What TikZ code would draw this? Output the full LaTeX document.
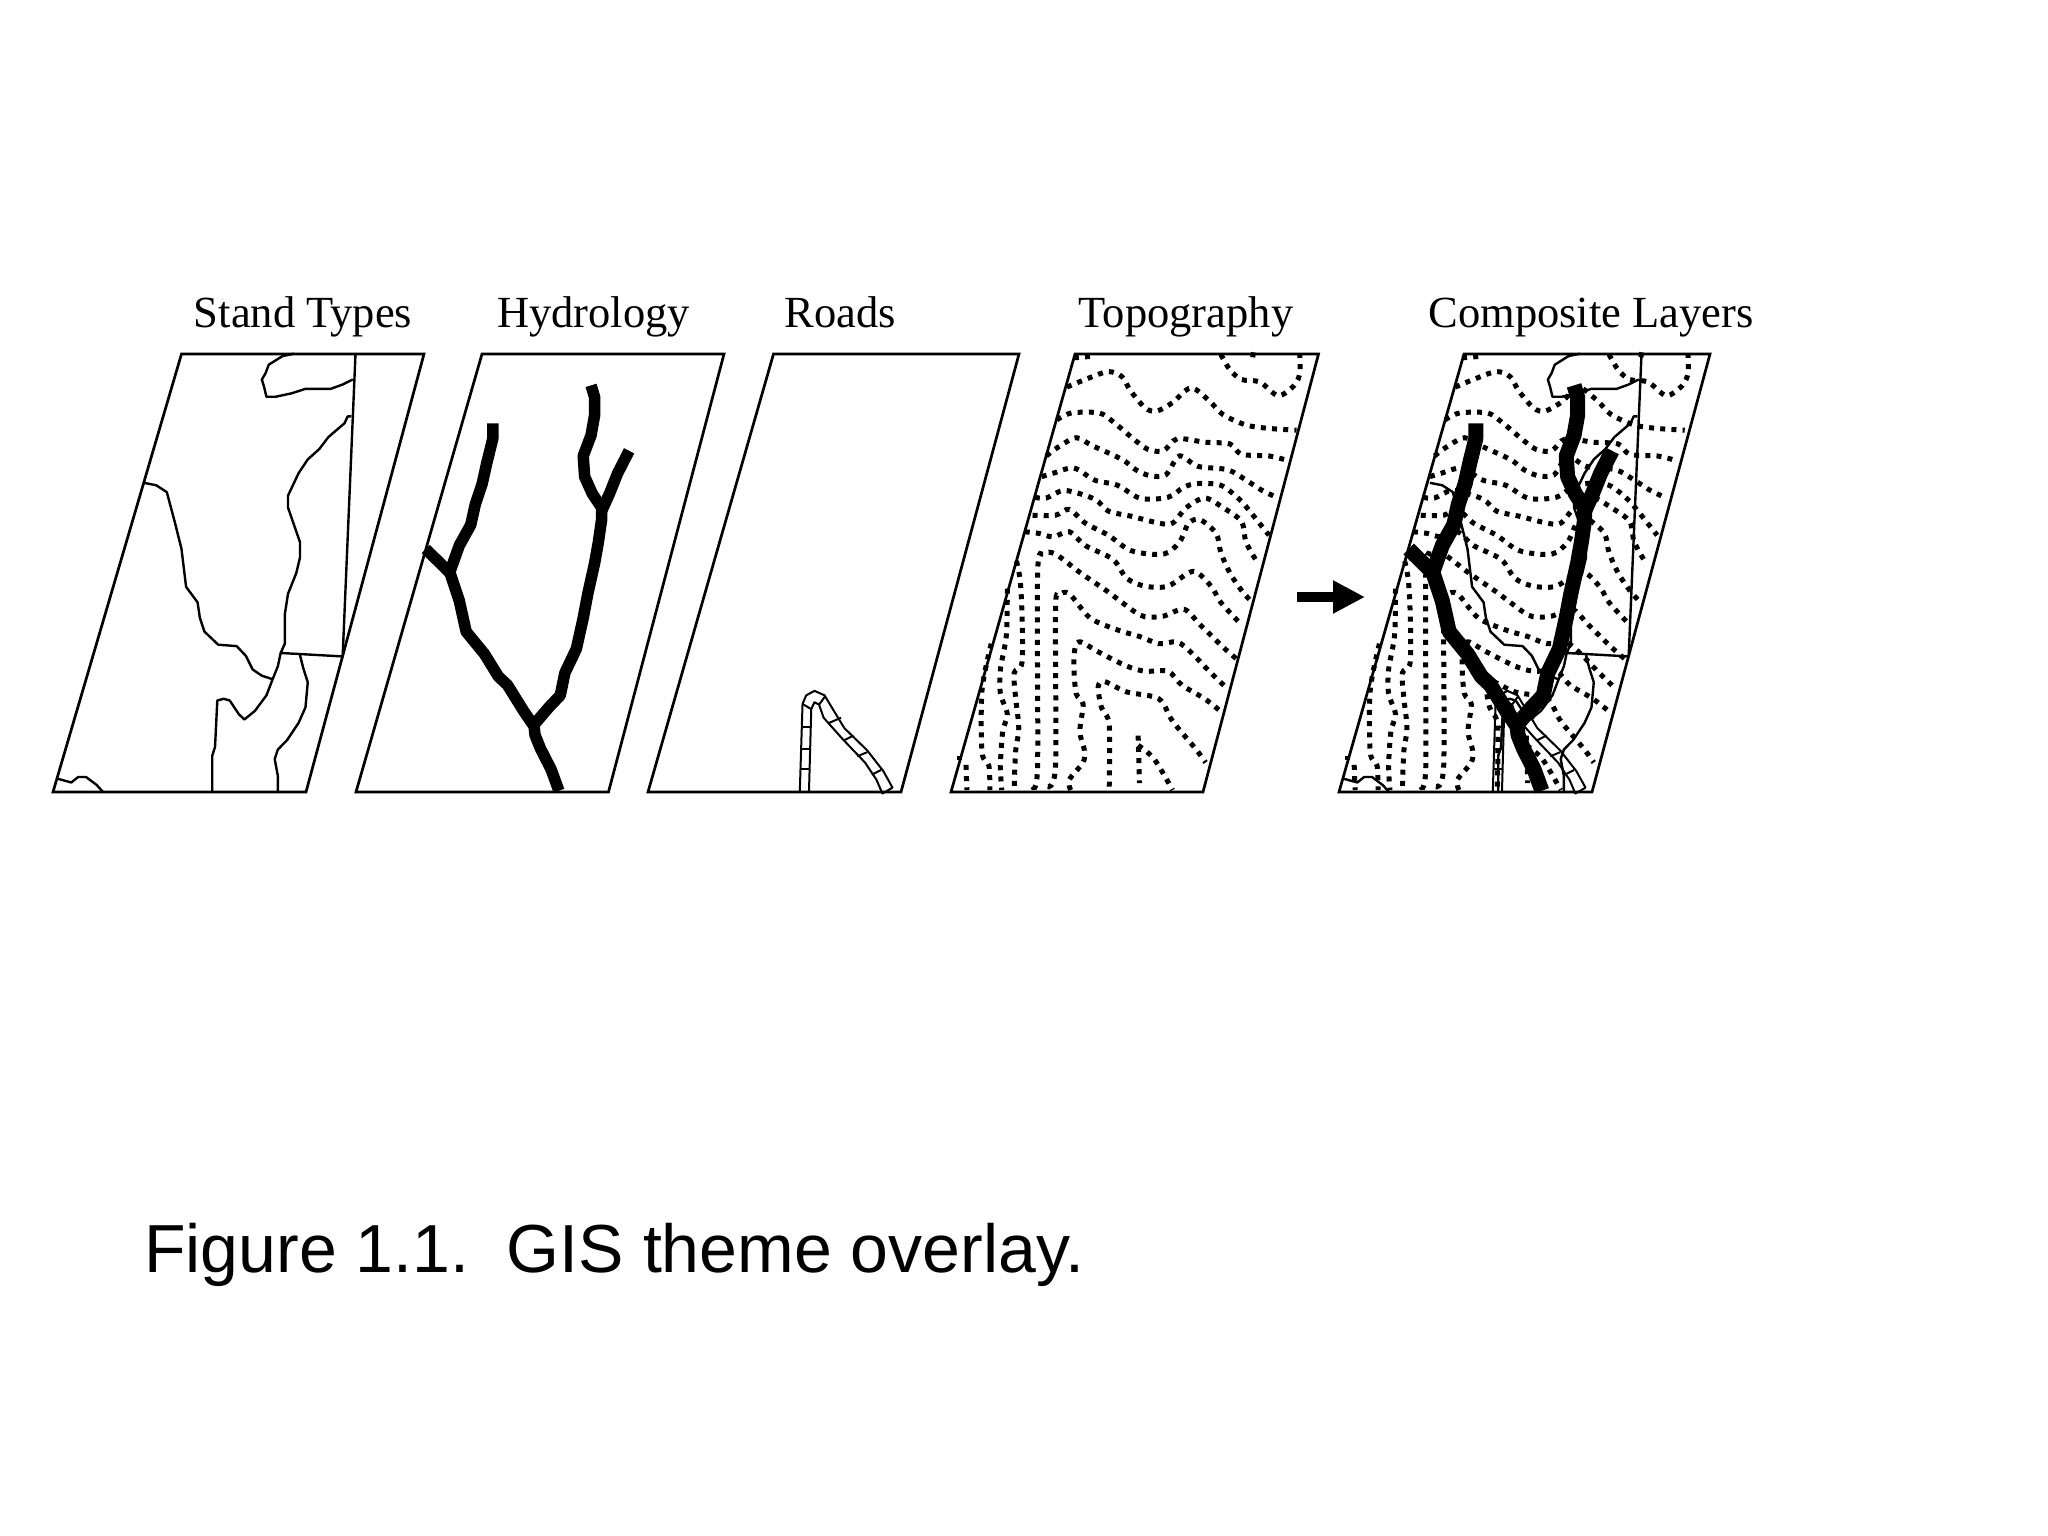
\documentclass[tikz,border=0pt]{standalone}
\usepackage{fontspec}
\setmainfont{Liberation Serif}
\newfontfamily\capfont{Liberation Sans}
\usetikzlibrary{arrows.meta}
\tikzset{
    sheet/.style={line width=2.7pt},
    boundary/.style={line width=2.4pt, line join=round},
    stream/.style={line width=11.5pt, line join=round},
    road/.style={line width=2pt, line join=round},
    contour/.style={line width=5pt, dash pattern=on 5pt off 6.2pt},
    layerlabel/.style={anchor=base, font=\fontsize{44.5}{50}\selectfont, inner sep=0pt},
}
% each layer is traced in its own frame, so it can be drawn twice
\newcommand{\standlayer}{
    \draw[boundary] (575,243) -- (550,250) -- (520,275) -- (513,300) -- (505,318) -- (510,340) -- (515,368) -- (535,368) -- (570,358) -- (600,345) -- (655,345) -- (680,333) -- (703,318);
    \draw[boundary] (709,243) -- (681,1122) -- (546,1112);
    \draw[boundary] (700,425) -- (692,425) -- (685,445) -- (650,485) -- (630,520) -- (605,550) -- (585,590) -- (562,655) -- (562,690) -- (575,740) -- (588,790) -- (588,835) -- (580,880) -- (562,940) -- (555,1000) -- (555,1085) -- (546,1112) -- (540,1150) -- (528,1190) -- (515,1235) -- (490,1280) -- (467,1305) -- (455,1290) -- (435,1250) -- (422,1245) -- (408,1250) -- (403,1385) -- (397,1410) -- (397,1517);
    \draw[boundary] (248,618) -- (275,625) -- (298,645) -- (315,730) -- (330,810) -- (340,920) -- (365,965) -- (370,1010) -- (380,1050) -- (410,1088) -- (450,1092) -- (470,1120) -- (485,1160) -- (505,1178) -- (528,1188);
    \draw[boundary] (588,1118) -- (595,1155) -- (605,1197) -- (600,1270) -- (585,1315) -- (560,1365) -- (540,1392) -- (533,1420) -- (540,1470) -- (540,1517);
    \draw[boundary] (60,1477) -- (90,1488) -- (105,1472) -- (122,1472) -- (145,1495) -- (160,1517);
}
\newcommand{\hydrolayer}{
    \draw[stream] (1152,1512) -- (1135,1450) -- (1112,1390) -- (1100,1350) -- (1098,1325) -- (1075,1280) -- (1040,1205) -- (1020,1180) -- (990,1115) -- (950,1050) -- (935,960) -- (915,880) -- (862,810);
    \draw[stream] (1008,445) -- (1008,490) -- (995,560) -- (985,620) -- (970,680) -- (960,740) -- (935,800) -- (915,875);
    \draw[stream] (1098,1320) -- (1130,1270) -- (1155,1235) -- (1165,1170) -- (1190,1100) -- (1205,1010) -- (1215,940) -- (1230,850) -- (1238,790) -- (1245,725) -- (1245,690) -- (1225,650) -- (1208,600) -- (1205,540) -- (1222,480) -- (1230,420) -- (1230,370) -- (1222,335);
    \draw[stream] (1245,700) -- (1262,650) -- (1280,590) -- (1305,525);
}
\newcommand{\roadlayer}{
    \draw[road] (348,1517) -- (354,1260) -- (362,1235) -- (380,1222) -- (402,1235) -- (420,1275) -- (445,1330) -- (495,1395) -- (530,1455) -- (550,1503) -- (528,1520) -- (515,1480) -- (490,1430) -- (440,1360) -- (400,1300) -- (390,1262) -- (380,1255) -- (373,1275) -- (368,1517);
    \draw[road] (354,1327) -- (373,1327);
    \draw[road] (352,1390) -- (372,1390);
    \draw[road] (350,1448) -- (370,1448);
    \draw[road] (354,1260) -- (373,1275);
    \draw[road] (402,1240) -- (390,1262);
    \draw[road] (438,1300) -- (412,1315);
    \draw[road] (465,1352) -- (445,1365);
    \draw[road] (495,1400) -- (473,1412);
    \draw[road] (525,1452) -- (505,1465);
}
\newcommand{\topolayer}{
    % upper contours, left edge to right edge
    \draw[contour] plot[smooth] coordinates {(1265,245) (1285,290) (1310,318) (1350,325) (1390,365) (1425,335) (1437,300) (1437,245)};
    \draw[contour] (945,255) -- (990,250);
    \draw[contour] (1330,245) -- (1352,250);
    \draw[contour] plot[smooth] coordinates {(930,340) (975,315) (1020,295) (1050,310) (1068,350) (1100,400) (1125,410) (1160,385) (1200,342) (1240,380) (1270,420) (1320,450) (1370,460) (1430,465)};
    \draw[contour] plot[smooth] coordinates {(908,435) (940,415) (1000,415) (1030,440) (1070,485) (1105,520) (1140,525) (1170,490) (1230,500) (1285,505) (1310,535) (1370,540) (1408,552)};
    \draw[contour] plot[smooth] coordinates {(885,540) (910,515) (950,487) (985,510) (1050,550) (1080,580) (1110,597) (1145,595) (1175,540) (1215,570) (1280,580) (1320,610) (1355,640) (1390,662)};
    \draw[contour] plot[smooth] coordinates {(875,600) (900,590) (945,575) (990,610) (1040,625) (1090,663) (1150,660) (1185,630) (1215,620) (1265,625) (1305,665) (1325,695) (1355,745) (1370,770)};
    \draw[contour] plot[smooth] coordinates {(860,660) (885,662) (925,640) (990,665) (1020,700) (1070,715) (1130,735) (1160,735) (1190,690) (1230,662) (1270,690) (1310,730) (1320,790) (1345,850)};
    \draw[contour] plot[smooth] coordinates {(855,712) (905,712) (935,695) (970,735) (1020,770) (1070,815) (1140,825) (1175,790) (1195,735) (1220,725) (1255,765) (1265,820) (1285,880) (1310,930) (1330,960)};
    \draw[contour] plot[smooth] coordinates {(838,760) (870,765) (900,775) (935,760) (970,800) (1030,840) (1060,895) (1100,918) (1150,918) (1205,875) (1245,920) (1265,965) (1310,1030)};
    % contours that turn down to the lower edge
    \draw[contour] plot[smooth] coordinates {(855,1500) (866,1440) (866,880) (880,825) (905,825) (960,880) (1020,935) (1075,990) (1100,1007) (1140,1005) (1185,985) (1220,1030) (1270,1095) (1300,1130)};
    \draw[contour] plot[smooth] coordinates {(888,1500) (905,1440) (905,990) (912,945) (935,940) (980,1010) (1040,1045) (1090,1065) (1130,1085) (1170,1080) (1200,1110) (1240,1165) (1275,1210)};
    \draw[contour] plot[smooth] coordinates {(938,1510) (935,1480) (965,1430) (968,1395) (958,1340) (965,1260) (950,1230) (945,1150) (948,1095) (960,1080) (1000,1110) (1060,1150) (1100,1165) (1150,1165) (1180,1205) (1230,1245) (1268,1285)};
    \draw[contour] plot[smooth] coordinates {(1022,1500) (1022,1320) (1005,1270) (998,1210) (1012,1195) (1060,1225) (1130,1245) (1160,1310) (1210,1390) (1232,1430)};
    \draw[contour] (1085,1352) -- (1088,1490);
    \draw[contour] plot[smooth] coordinates {(1085,1380) (1120,1420) (1160,1510)};
    % left strip
    \draw[contour] plot[smooth] coordinates {(820,845) (828,900) (832,1000) (832,1140) (815,1170) (818,1240) (825,1330) (818,1400) (815,1510)};
    \draw[contour] plot[smooth] coordinates {(800,925) (798,1060) (785,1160) (785,1230) (800,1290) (790,1340) (785,1440) (788,1510)};
    \draw[contour] plot[smooth] coordinates {(765,1085) (745,1220) (745,1400) (760,1440) (762,1510)};
    \draw[contour] (710,1437) -- (712,1510);
    \draw[contour] (695,1412) -- (695,1424);
}

\begin{document}
\begin{tikzpicture}[x=1pt, y=-1pt]
    \useasboundingbox (0,0) rectangle (2048,1536);

    % sheets
    \draw[sheet] (181.5,354) -- (424,354) -- (306,792) -- (53,792) -- cycle;
    \draw[sheet] (482,354) -- (724,354) -- (608.5,792) -- (356,792) -- cycle;
    \draw[sheet] (773.5,354) -- (1019,354) -- (901,792) -- (648,792) -- cycle;
    \draw[sheet] (1075,354) -- (1318.5,354) -- (1203,792) -- (951,792) -- cycle;
    \draw[sheet] (1464,354) -- (1710,354) -- (1592,792) -- (1339,792) -- cycle;

    % single layers
    \begin{scope}[shift={(30,270)}, xscale=.4591, yscale=.3444]
        \standlayer
        \hydrolayer
    \end{scope}
    \begin{scope}[shift={(640,270)}, xscale=.4591, yscale=.3444]
        \roadlayer
        \topolayer
    \end{scope}

    % composite
    \begin{scope}[shift={(1028.2,270)}, xscale=.4591, yscale=.3444]
        \topolayer
    \end{scope}
    \begin{scope}[shift={(1316,270)}, xscale=.4591, yscale=.3444]
        \standlayer
    \end{scope}
    \begin{scope}[shift={(1333,270)}, xscale=.4591, yscale=.3444]
        \roadlayer
    \end{scope}
    \begin{scope}[shift={(1013,270)}, xscale=.4591, yscale=.3444, stream/.style={line width=15pt, line join=round}]
        \hydrolayer
    \end{scope}

    \coordinate (arrowfrom) at (1297,597);
    \coordinate (arrowto) at (1365,597);
    \draw[line width=10pt, -{Triangle[length=32pt, width=31pt]}] (arrowfrom) -- (arrowto);

    \node[layerlabel] (standlabel) at (303,327) {Stand Types};
    \node[layerlabel] (hydrolabel) at (593.5,327) {Hydrology};
    \node[layerlabel] (roadlabel) at (840.5,327) {Roads};
    \node[layerlabel] (topolabel) at (1186,327) {Topography};
    \node[layerlabel] (complabel) at (1591,327) {Composite Layers};

    \node[anchor=base west, inner sep=0pt, font=\capfont\fontsize{68}{80}\selectfont] (caption) at (144,1272) {Figure 1.1.\ \ GIS theme overlay.};
\end{tikzpicture}
\end{document}
